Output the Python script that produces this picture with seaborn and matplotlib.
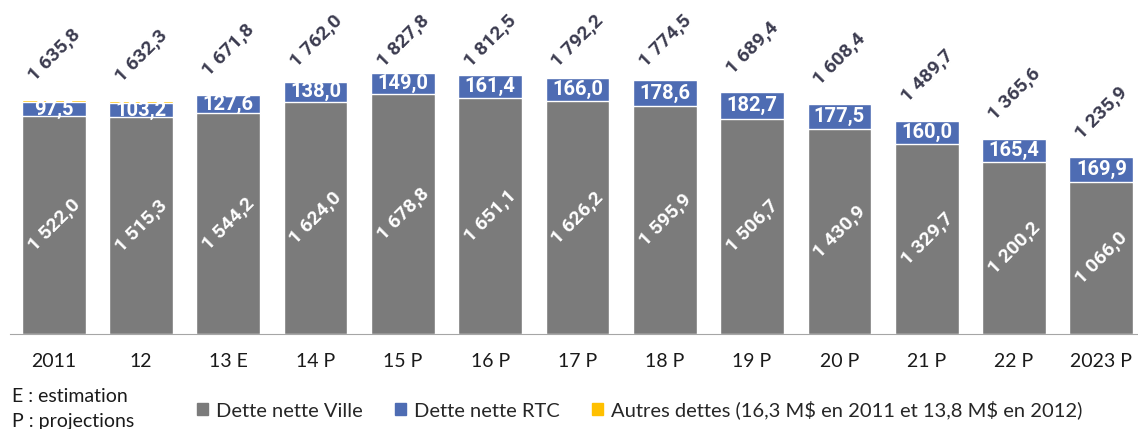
import numpy as np
import pandas as pd
import seaborn as sns
import matplotlib.pyplot as plt
from matplotlib.patches import Patch

# Données (M$)
annees = ["2011", "12", "13 E", "14 P", "15 P", "16 P", "17 P", "18 P", "19 P", "20 P", "21 P", "22 P", "2023 P"]
dette_ville = [1522.0, 1515.3, 1544.2, 1624.0, 1678.8, 1651.1, 1626.2, 1595.9, 1506.7, 1430.9, 1329.7, 1200.2, 1066.0]
dette_rtc = [97.5, 103.2, 127.6, 138.0, 149.0, 161.4, 166.0, 178.6, 182.7, 177.5, 160.0, 165.4, 169.9]
autres_dettes = [16.3, 13.8, 0, 0, 0, 0, 0, 0, 0, 0, 0, 0, 0]

GRIS = "#7b7b7b"
BLEU = "#4e6cb3"
JAUNE = "#ffc000"
TEXTE = "#3c3c50"
GRAS = ['Roboto', 'DejaVu Sans']

sns.set_style("white")
plt.rcParams['font.family'] = ['Lato', 'DejaVu Sans']

df = pd.DataFrame({
    "annee": annees,
    "ville": dette_ville,
    "rtc": dette_rtc,
    "autres": autres_dettes,
})
df["ville_rtc"] = df["ville"] + df["rtc"]
df["total"] = df["ville_rtc"] + df["autres"]


def fmt(v):
    # format français : 1 635,8
    return f"{v:,.1f}".replace(",", " ").replace(".", ",")


fig = plt.figure(figsize=(11.38, 4.29), dpi=100)
ax = fig.add_axes([10 / 1138, 95 / 429, 1135 / 1138, 334 / 429])

# barres empilées : on dessine du total vers le bas
largeur = 0.73
for col, couleur in [("total", JAUNE), ("ville_rtc", BLEU), ("ville", GRIS)]:
    sns.barplot(data=df, x="annee", y=col, color=couleur, saturation=1, width=largeur,
                edgecolor="white", linewidth=1, errorbar=None, ax=ax)

ax.set_xlim(-0.5, 12.5)
ax.set_ylim(0, 2336)

for i, row in df.iterrows():
    # étiquette dans la partie grise
    ax.text(i, row["ville"] / 2, fmt(row["ville"]), rotation=45, ha="center", va="center",
            color="white", fontsize=14, fontweight="bold", family=GRAS, rotation_mode="anchor")
    # étiquette RTC
    ax.text(i, row["ville"] + row["rtc"] / 2, fmt(row["rtc"]), ha="center", va="center",
            color="white", fontsize=14.5, fontweight="bold", family=GRAS)
    # total au-dessus
    y_tot = min(row["total"] + 315, 2050)
    ax.text(i, y_tot, fmt(row["total"]), rotation=45, ha="center", va="center",
            color=TEXTE, fontsize=14, fontweight="bold", family=GRAS, rotation_mode="anchor")

# axes
for s in ["top", "left", "right"]:
    ax.spines[s].set_visible(False)
ax.spines["bottom"].set_color("#a6a6a6")
ax.set_yticks([])
ax.set_xlabel("")
ax.set_ylabel("")
ax.set_xticks(np.arange(-0.5, 13, 1), minor=True)
ax.tick_params(axis="x", which="major", length=0, pad=14, labelsize=14, labelcolor="#1a1a1a")
ax.tick_params(axis="x", which="minor", length=7, color="#a6a6a6", width=1)

# légende
poignees = [Patch(color=GRIS, label="Dette nette Ville"),
            Patch(color=BLEU, label="Dette nette RTC"),
            Patch(color=JAUNE, label="Autres dettes (16,3 M\\$ en 2011 et 13,8 M\\$ en 2012)")]
fig.legend(handles=poignees, loc="center", bbox_to_anchor=(0.562, 0.044), ncol=3, frameon=False,
           fontsize=14.5, handlelength=0.55, handleheight=0.55, handletextpad=0.4, columnspacing=1.6)

fig.text(12 / 1138, 1 - 396 / 429, "E : estimation", va="center", ha="left", fontsize=14, color="#1a1a1a")
fig.text(12 / 1138, 1 - 421 / 429, "P : projections", va="center", ha="left", fontsize=14, color="#1a1a1a")

fig.savefig("out.png", dpi=100)
